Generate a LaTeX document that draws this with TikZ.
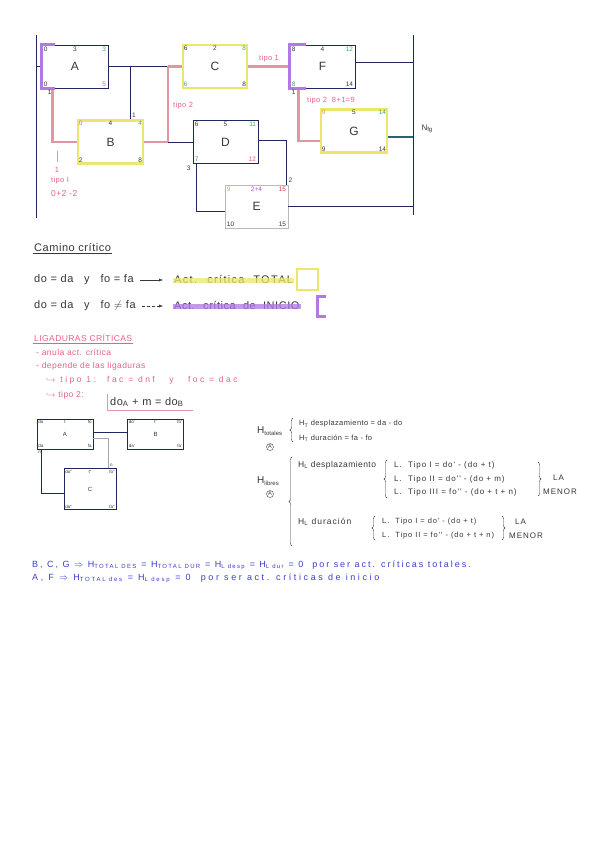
\documentclass[tikz,border=0pt]{standalone}
\usepackage{fontspec}
\setmainfont{Liberation Sans}
\newfontfamily\handA[LetterSpace=5]{Liberation Sans}
\newfontfamily\handB[LetterSpace=12]{Liberation Sans}
\usepackage{amsmath}
\usetikzlibrary{arrows.meta,positioning,calc,decorations.pathreplacing}

\definecolor{inkblue}{RGB}{30,40,95}
\definecolor{hlyellow}{RGB}{236,230,110}
\definecolor{hlpink}{RGB}{226,150,162}
\definecolor{hlpurple}{RGB}{178,120,228}
\definecolor{penpink}{RGB}{226,100,132}
\definecolor{penblue}{RGB}{60,62,205}
\definecolor{pengreen}{RGB}{70,170,95}
\definecolor{penorange}{RGB}{228,160,60}
\definecolor{penteal}{RGB}{45,140,140}
\definecolor{penred}{RGB}{200,70,70}
\definecolor{penviolet}{RGB}{170,90,200}
\definecolor{pengray}{RGB}{55,55,60}

\begin{document}
\begin{tikzpicture}[
    x=1pt, y=-1pt,
    actbox/.style={
      rectangle, draw=inkblue, line width=0.6pt, minimum width=65pt,
      minimum height=43pt, inner sep=0pt, text=pengray,
      font=\fontsize{12}{12}\selectfont
    },
    totalbox/.style={draw=hlyellow, line width=2.5pt},
    smallbox/.style={
      rectangle, draw=inkblue, line width=0.6pt, minimum width=56pt,
      minimum height=30pt, inner sep=0pt, text=pengray,
      font=\fontsize{6}{6}\selectfont
    },
    lbl/.style={font=\fontsize{6.5}{6.5}\selectfont, inner sep=2pt, text=pengray},
    tl/.style={lbl, anchor=north west},
    tm/.style={lbl, anchor=north},
    tr/.style={lbl, anchor=north east},
    bl/.style={lbl, anchor=south west},
    br/.style={lbl, anchor=south east},
    sl/.style={font=\fontsize{4.5}{4.5}\selectfont, inner sep=1.5pt, text=pengray},
    link/.style={draw=inkblue, line width=0.6pt},
    critlink/.style={draw=hlpink, line width=2.5pt},
    startmark/.style={draw=hlpurple, line width=3pt},
    note/.style={text=penpink, font=\handA\fontsize{7.5}{7.5}\selectfont, inner sep=1pt},
    txt/.style={text=pengray, anchor=west, inner sep=1pt, font=\handA\fontsize{11}{11}\selectfont},
    pinktxt/.style={text=penpink, anchor=west, inner sep=1pt, font=\handA\fontsize{8.5}{8.5}\selectfont},
    htxt/.style={text=pengray, anchor=west, inner sep=1pt, font=\handB\fontsize{8}{8}\selectfont},
    bluetxt/.style={text=penblue, anchor=west, inner sep=1pt},
    brace/.style={decorate, decoration={brace, amplitude=3pt}, draw=pengray, thin}
  ]
    \fill[white] (0,0) rectangle (600,848);
    \useasboundingbox (0,0) rectangle (600,848);

    % start and end lines
    \coordinate (s0) at (36,35);
    \coordinate (s1) at (36,218);
    \coordinate (e0) at (413,35);
    \coordinate (e1) at (413,215);
    \draw[link] (s0) -- (s1);
    \draw[link] (e0) -- (e1);

    % Activities
    \node[actbox, minimum width=66pt] (A) at (75,66.5) {A};
    \node[actbox, totalbox] (B) at (110.5,142) {B};
    \node[actbox, totalbox, minimum width=64pt] (C) at (215,66.5) {C};
    \node[actbox] (D) at (225.5,142) {D};
    \node[actbox, draw=gray!55, minimum width=63pt] (E) at (256.5,206.5) {E};
    \node[actbox] (F) at (322.5,66.5) {F};
    \node[actbox, totalbox, minimum width=66pt] (G) at (354,131) {G};

    % corner values
    \node[tl] at (A.north west) {0}; \node[tm] at (A.north) {3}; \node[tr, text=pengreen] at (A.north east) {3};
    \node[bl] at (A.south west) {0}; \node[br, text=penpink] at (A.south east) {5};
    \node[tl, text=penpink] at (B.north west) {0}; \node[tm] at (B.north) {4}; \node[tr, text=pengreen] at (B.north east) {4};
    \node[bl] at (B.south west) {2}; \node[br] at (B.south east) {8};
    \node[tl] at (C.north west) {6}; \node[tm] at (C.north) {2}; \node[tr, text=pengreen] at (C.north east) {8};
    \node[bl, text=pengreen] at (C.south west) {6}; \node[br] at (C.south east) {8};
    \node[tl] at (D.north west) {6}; \node[tm] at (D.north) {5}; \node[tr, text=pengreen] at (D.north east) {11};
    \node[bl, text=penteal] at (D.south west) {7}; \node[br, text=penpink] at (D.south east) {12};
    \node[tl, text=penorange] at (E.north west) {9}; \node[tm, text=penviolet] at (E.north) {2+4}; \node[tr, text=penred] at (E.north east) {15};
    \node[bl] at (E.south west) {10}; \node[br] at (E.south east) {15};
    \node[tl] at (F.north west) {8}; \node[tm] at (F.north) {4}; \node[tr, text=pengreen] at (F.north east) {12};
    \node[bl, text=pengreen] at (F.south west) {8}; \node[br] at (F.south east) {14};
    \node[tl, text=penorange] at (G.north west) {9}; \node[tm] at (G.north) {5}; \node[tr, text=pengreen] at (G.north east) {14};
    \node[bl] at (G.south west) {9}; \node[br] at (G.south east) {14};

    % Links
    \coordinate (j1) at (168,66.5);
    \coordinate (j2) at (168,142);
    \draw[link] (A.west) -- (A.west -| s0);
    \draw[link] (A.east) -- (j1);
    \draw[critlink] (j1) -- (C.west);
    \draw[link] ([xshift=19.5pt]B.north) -- ([xshift=19.5pt]B.north |- A.east);
    \draw[critlink] (B.east) -- (j2) -- (j1);
    \draw[link] (j2) -- (D.west);
    \draw[critlink] ([xshift=11pt]A.south west) |- (B.west);
    \draw[critlink] (C.east) -- node[note, above=2pt] {tipo 1} (F.west);
    \draw[link] ([yshift=4pt]F.east) -- ([yshift=4pt]F.east -| e0);
    \draw[critlink] ([xshift=9pt]F.south west) |- ([yshift=-10pt]G.west);
    \draw[draw=penteal!60!inkblue, line width=1.6pt] ([yshift=-6pt]G.east) -- ([yshift=-6pt]G.east -| e0);
    \draw[link] ([yshift=2pt]D.east) -| ([xshift=-2pt]E.north east);
    \draw[link] ([xshift=4pt]D.south west) |- ([yshift=-5pt]E.west);
    \draw[link] (E.east) -- (E.east -| e0);
    \draw[startmark] ([xshift=13pt]A.north west) -- (A.north west) -- (A.south west) -- ([xshift=13pt]A.south west);
    \draw[startmark] ([xshift=16pt]F.north west) -- (F.north west) -- (F.south west) -- ([xshift=16pt]F.south west);

    % notes on the network
    \node[lbl, anchor=south west] at ([xshift=19.5pt]B.north) {1};
    \node[lbl, anchor=north] at ([xshift=8pt]A.south west) {1};
    \node[note, anchor=west] at (172,106) {tipo 2};
    \draw[hlpink, line width=0.8pt] (57,151) -- (57,162);
    \node[note] at (57,170) {1};
    \node[note, anchor=west] at (50,181) {tipo I};
    \node[note, anchor=west, font=\handA\fontsize{8.5}{8.5}\selectfont] at (50,194) {0+2 -2};
    \node[lbl, anchor=north east] at (D.south west) {3};
    \node[lbl, anchor=south west] at ([xshift=-2pt]E.north east) {2};
    \node[lbl, anchor=north] at ([xshift=4pt]F.south west) {1};
    \node[note, anchor=west] at (306,101) {tipo 2~ 8+1=9};
    \node[text=pengray, anchor=west, font=\fontsize{8}{8}\selectfont] at (418,129) {N\textsubscript{fg}};

    % Camino critico
    \node[txt] (cam) at (33,248) {Camino crítico};
    \draw[pengray, thin] (cam.south west) -- (cam.south east);
    \node[txt] (c1) at (33,280) {do = da~~ y~~ fo = fa};
    \node[txt, font=\handB\fontsize{11}{11}\selectfont] (t1) at (173,280) {Act.~ crítica~ TOTAL};
    \draw[-{Latex[length=4pt]}, pengray, shorten <=5pt, shorten >=10pt] (c1) -- (t1);
    \draw[hlyellow, line width=5pt, opacity=0.75] (t1.west) -- (t1.east);
    \draw[hlyellow, line width=2.5pt] (297,269) rectangle (318,290);
    \node[txt] (c2) at (33,306) {do = da~~ y~~ fo $\neq$ fa};
    \node[txt] (t2) at (173,306) {Act.~ crítica~ de~ INICIO};
    \draw[-{Latex[length=4pt]}, pengray, densely dashed, shorten <=5pt, shorten >=10pt] (c2) -- (t2);
    \draw[hlpurple, line width=5pt, opacity=0.75] (t2.west) -- (t2.east);
    \draw[hlpurple, line width=3pt] (326,296) -- (317,296) -- (317,316) -- (326,316);

    % Ligaduras
    \node[pinktxt] (lig) at (33,338) {LIGADURAS CRÍTICAS};
    \draw[penpink, thin] (lig.south west) -- (lig.south east);
    \node[pinktxt] at (35,352) {- anula act. crítica};
    \node[pinktxt] at (35,366) {- depende de las ligaduras};
    \node[pinktxt, font=\handA\fontsize{8.5}{8.5}\selectfont\addfontfeature{LetterSpace=29}] at (45,380) {$\hookrightarrow$ tipo 1:~ fac = dnf~~ y~~ foc = dac};
    \node[pinktxt] at (45,395) {$\hookrightarrow$ tipo 2:};
    \node[text=pengray, anchor=west, inner sep=3pt, font=\handA\fontsize{11}{11}\selectfont] (f2) at (107,402) {do\textsubscript{A} + m = do\textsubscript{B}};
    \draw[hlpink, thin] (f2.north west) -- (f2.south west) -- ([xshift=6pt]f2.south east);

    % small network
    \node[smallbox] (a) at (65,434) {A};
    \node[smallbox] (b) at (155.5,434) {B};
    \node[smallbox, minimum width=52pt, minimum height=41pt] (c) at (90,489) {C};
    \node[sl, anchor=north west] at (a.north west) {do}; \node[sl, anchor=north] at (a.north) {t}; \node[sl, anchor=north east] at (a.north east) {fo};
    \node[sl, anchor=south west] at (a.south west) {da}; \node[sl, anchor=south east] at (a.south east) {fa};
    \node[sl, anchor=north west] at (b.north west) {do'}; \node[sl, anchor=north] at (b.north) {t'}; \node[sl, anchor=north east] at (b.north east) {fo'};
    \node[sl, anchor=south west] at (b.south west) {da'}; \node[sl, anchor=south east] at (b.south east) {fa'};
    \node[sl, anchor=north west] at (c.north west) {do''}; \node[sl, anchor=north] at (c.north) {t''}; \node[sl, anchor=north east] at (c.north east) {fo''};
    \node[sl, anchor=south west] at (c.south west) {da''}; \node[sl, anchor=south east] at (c.south east) {fa''};
    \draw[link] ([yshift=2pt]a.east) -- ([yshift=2pt]b.west);
    \draw[link, draw=gray!70] ([yshift=-4pt]a.east) -| ([xshift=-8pt]c.north east);
    \draw[link] ([xshift=5pt]a.south west) |- ([yshift=-4pt]c.west);
    \node[sl, anchor=south west] at ([xshift=-8pt]c.north east) {n};
    \node[sl, anchor=north west] at (a.south west) {m};

    % Holguras
    \node[htxt, font=\fontsize{10}{10}\selectfont] (htot) at (256,431) {H\textsubscript{\fontsize{6}{6}\selectfont totales}};
    \node[circle, draw=pengray, thin, inner sep=0.6pt, text=pengray, font=\fontsize{5.5}{5.5}\selectfont] (htotA) at (270,447) {A};
    \draw[brace] (293,442) -- (293,418);
    \node[htxt, font=\handA\fontsize{7.5}{7.5}\selectfont] at (298,424) {H\textsubscript{T} desplazamiento = da - do};
    \node[htxt, font=\handA\fontsize{7.5}{7.5}\selectfont] at (298,438) {H\textsubscript{T} duración = fa - fo};

    \node[htxt, font=\fontsize{10}{10}\selectfont] (hlib) at (256,481) {H\textsubscript{\fontsize{6}{6}\selectfont libres}};
    \node[circle, draw=pengray, thin, inner sep=0.6pt, text=pengray, font=\fontsize{5.5}{5.5}\selectfont] (hlibA) at (270,494) {A};
    \draw[brace] (292,546) -- (292,457);
    \node[htxt, font=\handA\fontsize{8.5}{8.5}\selectfont] at (297,465) {H\textsubscript{L} desplazamiento};
    \draw[brace] (387,498) -- (387,460);
    \node[htxt] at (393,465) {L.~ Tipo I = do' - (do + t)};
    \node[htxt] at (393,479) {L.~ Tipo II = do'' - (do + m)};
    \node[htxt] at (393,492) {L.~ Tipo III = fo'' - (do + t + n)};
    \draw[brace] (538,462) -- (538,496);
    \node[htxt] at (552,478) {LA};
    \node[htxt] at (542,492) {MENOR};
    \node[htxt, font=\handB\fontsize{8.5}{8.5}\selectfont] at (297,522) {H\textsubscript{L} duración};
    \draw[brace] (375,540) -- (375,516);
    \node[htxt, font=\handB\fontsize{7.5}{7.5}\selectfont] at (381,522) {L.~ Tipo I = do' - (do + t)};
    \node[htxt, font=\handB\fontsize{7.5}{7.5}\selectfont] at (381,536) {L.~ Tipo II = fo'' - (do + t + n)};
    \draw[brace] (502,516) -- (502,540);
    \node[htxt] at (514,522) {LA};
    \node[htxt] at (508,536) {MENOR};

    % Conclusiones
    \node[bluetxt, font=\fontsize{9}{9}\selectfont\addfontfeature{LetterSpace=22}] at (31,565) {B, C, G $\Rightarrow$ H\textsubscript{TOTAL DES} = H\textsubscript{TOTAL DUR} = H\textsubscript{L desp} = H\textsubscript{L dur} = 0~ por ser act. críticas totales.};
    \node[bluetxt, font=\fontsize{9}{9}\selectfont\addfontfeature{LetterSpace=29}] at (31,578) {A, F $\Rightarrow$ H\textsubscript{TOTAL des} = H\textsubscript{L desp} = 0~ por ser act. críticas de inicio};
  \end{tikzpicture}
\end{document}
